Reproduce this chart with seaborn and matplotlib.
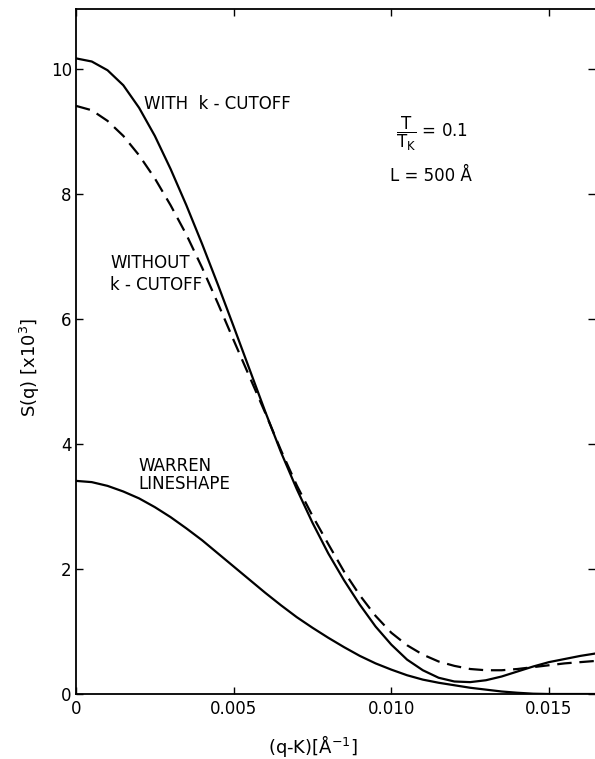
import matplotlib
matplotlib.use('Agg')

import pandas as pd
import matplotlib.pyplot as plt
import seaborn as sns

q = [0.0000, 0.0005, 0.0010, 0.0015, 0.0020, 0.0025, 0.0030, 0.0035,
     0.0040, 0.0045, 0.0050, 0.0055, 0.0060, 0.0065, 0.0070, 0.0075,
     0.0080, 0.0085, 0.0090, 0.0095, 0.0100, 0.0105, 0.0110, 0.0115,
     0.0120, 0.0125, 0.0130, 0.0135, 0.0140, 0.0145, 0.0150, 0.0155,
     0.0160, 0.0165]

# S(q) x 10^3
with_cutoff = [10.17, 10.12, 9.98, 9.74, 9.38, 8.93, 8.40, 7.82,
               7.20, 6.55, 5.88, 5.20, 4.52, 3.87, 3.28, 2.74,
               2.25, 1.82, 1.43, 1.08, 0.79, 0.55, 0.38, 0.26,
               0.20, 0.19, 0.22, 0.28, 0.36, 0.44, 0.51, 0.56,
               0.61, 0.65]

without_cutoff = [9.41, 9.34, 9.17, 8.93, 8.62, 8.25, 7.82, 7.35,
                  6.82, 6.25, 5.66, 5.08, 4.50, 3.90, 3.34, 2.85,
                  2.40, 1.96, 1.58, 1.25, 0.98, 0.78, 0.63, 0.52,
                  0.45, 0.40, 0.38, 0.38, 0.40, 0.43, 0.46, 0.49,
                  0.51, 0.53]

warren = [3.41, 3.39, 3.33, 3.24, 3.13, 2.99, 2.83, 2.65,
          2.46, 2.25, 2.04, 1.83, 1.62, 1.42, 1.23, 1.06,
          0.90, 0.75, 0.61, 0.49, 0.39, 0.30, 0.23, 0.18,
          0.14, 0.10, 0.07, 0.04, 0.02, 0.005, 0.0, 0.0,
          0.0, 0.0]

x_ticks = [0, 0.005, 0.010, 0.015]
x_tick_labels = ['0', '0.005', '0.010', '0.015']
y_ticks = [0, 2, 4, 6, 8, 10]

df = pd.DataFrame({'q': q, 'with': with_cutoff,
                   'without': without_cutoff, 'warren': warren})

sns.set_theme(style='ticks')
plt.rcParams['font.family'] = ['DejaVu Sans']
plt.rcParams['mathtext.fontset'] = 'dejavusans'
plt.rcParams['mathtext.default'] = 'regular'
plt.rcParams['text.color'] = 'black'
plt.rcParams['axes.labelcolor'] = 'black'
plt.rcParams['xtick.color'] = 'black'
plt.rcParams['ytick.color'] = 'black'
plt.rcParams['xtick.labelcolor'] = 'black'
plt.rcParams['ytick.labelcolor'] = 'black'

W, H = 595, 759
fig = plt.figure(figsize=(W / 100, H / 100), dpi=100)
ax = fig.add_axes([76 / W, 65 / H, (W - 76) / W, (694 - 9) / H])


def px(x, y):
    # pixel position in the figure -> figure fraction
    return x / W, 1 - y / H


sns.lineplot(data=df, x='q', y='with', ax=ax, color='black', lw=1.6,
             sort=False, estimator=None)
sns.lineplot(data=df, x='q', y='warren', ax=ax, color='black', lw=1.6,
             sort=False, estimator=None)
sns.lineplot(data=df, x='q', y='without', ax=ax, color='black', lw=1.6,
             sort=False, estimator=None)
ax.lines[-1].set_dashes((6.5, 3.5))

ax.set_xlim(0, 0.01646)
ax.set_ylim(0, 10.96)
ax.set_xticks(x_ticks)
ax.set_xticklabels(x_tick_labels)
ax.set_yticks(y_ticks)
ax.set_xlabel('')
ax.set_ylabel('')

ax.tick_params(direction='in', length=5, width=1, labelsize=12,
               top=True, right=True, color='black', labelcolor='black')
ax.tick_params(axis='x', pad=4)
ax.tick_params(axis='y', pad=3)
for side in ['left', 'bottom', 'top']:
    ax.spines[side].set_linewidth(1.3)
    ax.spines[side].set_color('black')
ax.spines['right'].set_visible(False)

fs = 12
fig.text(*px(144, 104), 'WITH  k - CUTOFF', fontsize=fs, va='center')
fig.text(*px(110, 263), 'WITHOUT', fontsize=fs, va='center')
fig.text(*px(110, 285), 'k - CUTOFF', fontsize=fs, va='center')
fig.text(*px(138, 466), 'WARREN', fontsize=fs, va='center')
fig.text(*px(138, 484), 'LINESHAPE', fontsize=fs, va='center')
fig.text(*px(396, 134), r'$\dfrac{T}{T_K}$ = 0.1', fontsize=fs, va='center')
fig.text(*px(390, 176), 'L = 500 Å', fontsize=fs, va='center')

fig.text(*px(30, 367), 'S(q) [x10$^3$]', fontsize=13, rotation=90,
         ha='center', va='center')
fig.text(*px(313, 746), '(q-K)[Å$^{-1}$]', fontsize=13,
         ha='center', va='center')

fig.savefig('out.png', dpi=100)
plt.close(fig)
print('Saved: out.png')
